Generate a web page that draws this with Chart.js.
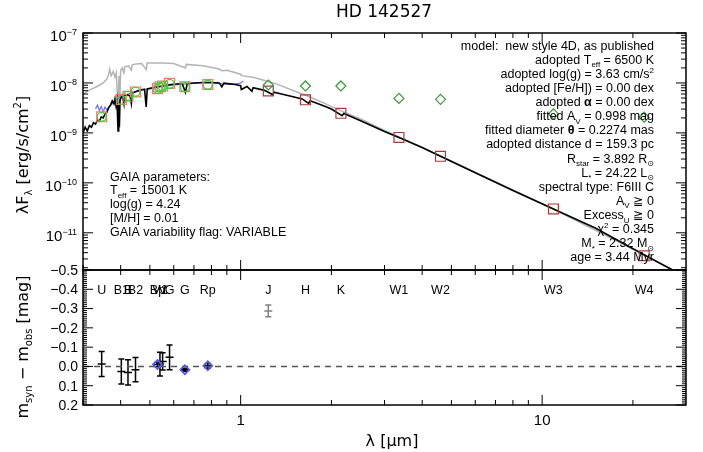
<!DOCTYPE html>
<html><head><meta charset="utf-8">
<script src="https://cdn.jsdelivr.net/npm/chart.js@4"></script>
<style>
html,body{margin:0;padding:0;background:#fff;}
#wrap{position:relative;width:703px;height:452px;overflow:hidden;}
canvas{position:absolute;left:0;top:0;}
</style></head><body>
<div id="wrap"><canvas id="c1" width="703" height="452"></canvas><canvas id="c2" width="703" height="452"></canvas></div>
<script>
// ================= DATA =================
// reddened model spectrum (black) [lambda um, lambda*F_lambda erg/s/cm2]
const specModelRed = [
 [0.300,1.0e-9],[0.305,1.3e-9],[0.310,1.1e-9],[0.315,1.4e-9],[0.320,1.3e-9],[0.325,1.6e-9],
 [0.330,1.5e-9],[0.335,1.8e-9],[0.340,1.7e-9],[0.345,2.1e-9],[0.350,2.0e-9],[0.355,2.4e-9],
 [0.360,2.6e-9],[0.365,3.2e-9],[0.370,3.6e-9],[0.375,4.4e-9],[0.380,3.8e-9],[0.383,4.8e-9],
 [0.386,3.5e-9],[0.389,4.6e-9],[0.392,1.1e-9],[0.394,4.0e-9],[0.396,1.3e-9],[0.398,4.5e-9],
 [0.402,5.2e-9],[0.405,5.5e-9],[0.410,3.8e-9],[0.412,5.6e-9],[0.420,5.8e-9],[0.430,5.5e-9],
 [0.434,3.9e-9],[0.437,6.2e-9],[0.445,6.6e-9],[0.455,6.9e-9],[0.470,7.3e-9],[0.480,7.5e-9],
 [0.486,3.3e-9],[0.490,7.6e-9],[0.510,8.0e-9],[0.530,8.4e-9],[0.550,8.7e-9],[0.580,9.2e-9],
 [0.600,9.4e-9],[0.640,9.7e-9],[0.656,6.5e-9],[0.665,9.8e-9],[0.700,1.0e-8],[0.750,1.02e-8],
 [0.800,1.02e-8],[0.850,1.0e-8],[0.866,8.3e-9],[0.880,9.9e-9],[0.920,9.6e-9],[0.960,9.3e-9],
 [1.000,8.8e-9],[1.005,7.4e-9],[1.050,8.5e-9],[1.090,6.8e-9],[1.100,8.0e-9],[1.200,7.1e-9],
 [1.280,5.8e-9],[1.290,6.5e-9],[1.400,5.8e-9],[1.600,4.8e-9],[1.680,3.9e-9],[1.700,4.4e-9],
 [1.900,3.4e-9],[2.000,3.0e-9],[2.170,2.2e-9],[2.200,2.45e-9],[2.500,1.75e-9],[3.000,1.07e-9],
 [3.350,8.1e-10],[4.000,5.1e-10],[4.600,3.4e-10],[6.000,1.6e-10],[8.000,7.0e-11],[10.90,3.0e-11],
 [15.00,1.25e-11],[22.00,3.5e-12],[30.00,1.3e-12]
];
// unreddened model spectrum (grey)
const specModelUnred = [
 [0.300,6.0e-9],[0.310,6.8e-9],[0.320,7.5e-9],[0.330,8.2e-9],[0.340,9.0e-9],[0.350,1.0e-8],
 [0.360,1.2e-8],[0.365,1.5e-8],[0.368,1.9e-8],[0.372,1.4e-8],[0.378,1.7e-8],[0.383,1.3e-8],
 [0.387,1.6e-8],[0.392,2.9e-9],[0.395,1.4e-8],[0.397,3.5e-9],[0.400,1.8e-8],[0.405,2.0e-8],
 [0.410,1.6e-8],[0.413,2.1e-8],[0.425,2.2e-8],[0.434,1.8e-8],[0.437,2.3e-8],[0.450,2.4e-8],
 [0.470,2.45e-8],[0.486,1.85e-8],[0.490,2.5e-8],[0.520,2.5e-8],[0.550,2.5e-8],[0.600,2.45e-8],
 [0.656,2.0e-8],[0.660,2.35e-8],[0.750,2.2e-8],[0.850,1.9e-8],[0.866,1.75e-8],[0.900,1.8e-8],
 [1.000,1.5e-8],[1.005,1.4e-8],[1.100,1.3e-8],[1.200,1.12e-8],[1.280,1.0e-8],[1.300,9.8e-9],
 [1.500,7.0e-9],[1.650,5.6e-9],[1.900,3.9e-9],[2.170,2.7e-9],[2.500,1.9e-9],[3.000,1.12e-9],
 [3.350,8.3e-10],[4.600,3.45e-10],[10.90,3.0e-11],[22.00,3.5e-12],[30.00,1.3e-12]
];
// Gaia XP spectrum (blue)
const specGaiaXP = [
 [0.330,3.0e-9],[0.335,3.6e-9],[0.340,2.8e-9],[0.345,3.4e-9],[0.350,2.6e-9],[0.355,3.3e-9],
 [0.360,2.9e-9],[0.370,3.5e-9],[0.380,4.2e-9],[0.390,4.8e-9],[0.400,5.3e-9],[0.420,5.9e-9],
 [0.440,6.4e-9],[0.460,7.0e-9],[0.480,7.3e-9],[0.500,7.6e-9],[0.550,8.5e-9],[0.600,9.1e-9],
 [0.650,9.5e-9],[0.700,9.8e-9],[0.750,1.0e-8],[0.800,1.0e-8],[0.850,9.7e-9],[0.900,9.5e-9],
 [0.950,9.5e-9],[1.000,9.9e-9],[1.020,1.1e-8]
];
// optical photometry
const optFilters   = ['U','B1','B','B2','Bp','V1','V','G','G','Rp'];
const optLambda    = [0.346,0.402,0.423,0.448,0.530,0.540,0.551,0.581,0.653,0.778];
const optObsFlux   = [2.1e-9,4.6e-9,5.5e-9,6.7e-9,7.6e-9,8.2e-9,8.6e-9,9.6e-9,8.3e-9,9.2e-9];
const optModelFlux = [2.1e-9,4.7e-9,5.4e-9,6.6e-9,7.7e-9,8.4e-9,8.7e-9,9.8e-9,8.4e-9,9.3e-9];
// infrared photometry
const irFilters   = ['J','H','K','W1','W2','W3','W4'];
const irLambda    = [1.235,1.64,2.15,3.35,4.6,10.9,21.8];
const irObsFlux   = [9.1e-9,8.7e-9,8.7e-9,4.9e-9,4.7e-9,2.4e-9,2.06e-9];
const irModelFlux = [6.9e-9,4.6e-9,2.47e-9,8.1e-10,3.4e-10,3.0e-11,3.47e-12];
// residuals m_syn - m_obs
const resGenLambda = [0.346,0.402,0.423,0.448,0.540,0.551,0.581];
const resGenVal    = [-0.013,0.026,0.031,0.017,-0.012,-0.026,-0.047];
const resGenErr    = [0.065,0.065,0.065,0.063,0.062,0.045,0.064];
const resGaiaLambda = [0.530,0.653,0.778];
const resGaiaVal    = [-0.010,0.017,-0.003];
const resGaiaErr    = [0.012,0.008,0.012];
const resJLambda = [1.235];
const resJVal    = [-0.288];
const resJErr    = [0.03];
// tick labels
const topTickExps = [-7,-8,-9,-10,-11];
const botTickVals = [-0.5,-0.4,-0.3,-0.2,-0.1,0.0,0.1,0.2];
const xTickVals = [1,10];
const filterLabels = ['U','B1','B','B2','Bp','V1','V','G','G','Rp','J','H','K','W1','W2','W3','W4'];
const filterLabelLambda = [0.346,0.402,0.423,0.448,0.530,0.540,0.551,0.581,0.653,0.778,1.235,1.64,2.15,3.35,4.6,10.9,21.8];

// ================= HELPERS =================
const FONT = '"Liberation Sans", "DejaVu Sans", "Noto Sans CJK JP", sans-serif';
const FONT2 = '"DejaVu Sans", "Liberation Sans", "Noto Sans CJK JP", sans-serif';
function drawRich(ctx, segs, x, y, align, size, font) {
  const items = segs.map(s => Array.isArray(s) ? {t:s[0], m:s[1]} : {t:s, m:''});
  let w = 0;
  const fontFor = m => (m==='b' ? 'bold ' : '') + ((m==='sub'||m==='sup') ? Math.round(size*0.62) : size) + 'px ' + font;
  items.forEach(it => { ctx.font = fontFor(it.m); it.w = ctx.measureText(it.t).width; w += it.w; });
  let cx = align === 'right' ? x - w : align === 'center' ? x - w/2 : x;
  ctx.textAlign = 'left'; ctx.textBaseline = 'alphabetic';
  items.forEach(it => {
    ctx.font = fontFor(it.m);
    const dy = it.m === 'sub' ? size*0.28 : it.m === 'sup' ? -size*0.42 : 0;
    ctx.fillText(it.t, cx, y + dy);
    cx += it.w;
  });
}
const pts = (arr) => arr.map(p => ({x:p[0], y:p[1]}));
const zip = (xs, ys) => xs.map((v,i) => ({x:v, y:ys[i]}));

function xTicks() {
  const t = [];
  for (let e = -1; e <= 1; e++) for (let k = 1; k <= 9; k++) {
    const v = k * Math.pow(10, e);
    if (v > 0.3 && v < 30) t.push({v, major: k === 1});
  }
  return t;
}
function drawXTicks(ctx, sx, yEdge, dir) {
  xTicks().forEach(t => {
    const px = sx.getPixelForValue(t.v);
    const L = t.major ? 10 : 5;
    ctx.beginPath(); ctx.moveTo(px, yEdge); ctx.lineTo(px, yEdge + dir*L); ctx.stroke();
  });
}

// ================= TOP CHART =================
const topPlugin = {
  id: 'topDeco',
  afterDatasetsDraw(chart) {
    const ctx = chart.ctx, a = chart.chartArea, sx = chart.scales.x, sy = chart.scales.y;
    ctx.save();
    ctx.strokeStyle = '#000'; ctx.fillStyle = '#000';
    ctx.lineWidth = 1.5;
    ctx.strokeRect(a.left, a.top, a.right - a.left, a.bottom - a.top);
    ctx.lineWidth = 1;
    drawXTicks(ctx, sx, a.top, 1);
    drawXTicks(ctx, sx, a.bottom, -1);
    for (let e = -12; e <= -7; e++) for (let k = 1; k <= 9; k++) {
      const v = k * Math.pow(10, e);
      if (v < sy.min || v > sy.max) continue;
      const py = sy.getPixelForValue(v);
      const L = k === 1 ? 10 : 5;
      ctx.beginPath(); ctx.moveTo(a.left, py); ctx.lineTo(a.left + L, py);
      ctx.moveTo(a.right, py); ctx.lineTo(a.right - L, py); ctx.stroke();
    }
    topTickExps.forEach(e => {
      const py = sy.getPixelForValue(Math.pow(10, e));
      drawRich(ctx, ['10', ['\u2212' + Math.abs(e), 'sup']], 77, py + 8, 'right', 15, FONT);
    });
    ctx.font = '17px ' + FONT2; ctx.textAlign = 'center'; ctx.textBaseline = 'middle';
    ctx.fillText('HD 142527', 384, 13);
    ctx.save(); ctx.translate(22, 155); ctx.rotate(-Math.PI/2);
    drawRich(ctx, ['\u03bbF', ['\u03bb','sub'], ' [erg/s/cm', ['2','sup'], ']'], 0, 6, 'center', 16, FONT2);
    ctx.restore();
    const lines = [
      ['model:  new style 4D, as published'],
      ['adopted T', ['eff','sub'], ' = 6500 K'],
      ['adopted log(g) = 3.63 cm/s', ['2','sup']],
      ['adopted [Fe/H]) = 0.00 dex'],
      ['adopted ', ['\u03b1','b'], ' = 0.00 dex'],
      ['fitted A', ['V','sub'], ' = 0.998 mag'],
      ['fitted diameter ', ['\u03b8','b'], ' = 0.2274 mas'],
      ['adopted distance d = 159.3 pc'],
      ['R', ['star','sub'], ' = 3.892 R', ['\u2299','sub']],
      ['L', ['*','sub'], ' = 24.22 L', ['\u2299','sub']],
      ['spectral type: F6III C'],
      ['A', ['V','sub'], ' \u2267 0'],
      ['Excess', ['U','sub'], ' \u2267 0'],
      ['\u03c7', ['2','sup'], ' = 0.345'],
      ['M', ['*','sub'], ' = 2.32 M', ['\u2299','sub']],
      ['age = 3.44 Myr']
    ];
    lines.forEach((ln, i) => drawRich(ctx, ln, 654, 45 + i*14.13 + 4.5, 'right', 12.5, FONT));
    const gaia = [
      ['GAIA parameters:'],
      ['T', ['eff','sub'], ' = 15001 K'],
      ['log(g) = 4.24'],
      ['[M/H] = 0.01'],
      ['GAIA variability flag: VARIABLE']
    ];
    gaia.forEach((ln, i) => drawRich(ctx, ln, 110, 176 + i*13.8 + 4.5, 'left', 12.5, FONT));
    ctx.restore();
  }
};

new Chart(document.getElementById('c1'), {
  type: 'scatter',
  data: { datasets: [
    { data: pts(specModelUnred), showLine: true, borderColor: '#b4b4b4', borderWidth: 1.5, pointRadius: 0, order: 10 },
    { data: pts(specGaiaXP), showLine: true, borderColor: '#7070ff', borderWidth: 1.2, pointRadius: 0, order: 9 },
    { data: pts(specModelRed), showLine: true, borderColor: '#000000', borderWidth: 1.6, pointRadius: 0, order: 8 },
    { data: zip(optLambda, optModelFlux), pointStyle: 'rect', pointRadius: 7, borderColor: '#f07878', backgroundColor: 'rgba(0,0,0,0)', borderWidth: 1.2, order: 6 },
    { data: zip(optLambda, optObsFlux), pointStyle: 'circle', pointRadius: 4.5, borderColor: '#33d633', backgroundColor: 'rgba(0,0,0,0)', borderWidth: 1.3, order: 5 },
    { data: zip(irLambda, irModelFlux), pointStyle: 'rect', pointRadius: 7, borderColor: '#a83838', backgroundColor: 'rgba(0,0,0,0)', borderWidth: 1.2, order: 4 },
    { data: zip(irLambda, irObsFlux), pointStyle: 'rectRot', pointRadius: 5, borderColor: '#3a9a3a', backgroundColor: 'rgba(0,0,0,0)', borderWidth: 1.2, order: 3 }
  ]},
  options: {
    responsive: false, animation: false, events: [],
    layout: { padding: { left: 83, right: 17, top: 33, bottom: 182 } },
    plugins: { legend: { display: false }, tooltip: { enabled: false } },
    scales: {
      x: { type: 'logarithmic', min: 0.3, max: 30, display: false },
      y: { type: 'logarithmic', min: 1.8e-12, max: 1e-7, display: false }
    }
  },
  plugins: [topPlugin]
});

// ================= BOTTOM CHART =================
const botPlugin = {
  id: 'botDeco',
  beforeDatasetsDraw(chart) {
    const ctx = chart.ctx, sx = chart.scales.x, sy = chart.scales.y;
    ctx.save();
    const bars = (lams, vals, errs, color) => {
      ctx.strokeStyle = color; ctx.lineWidth = 1.5;
      lams.forEach((l, i) => {
        const px = sx.getPixelForValue(l);
        const y1 = sy.getPixelForValue(vals[i] - errs[i]);
        const y2 = sy.getPixelForValue(vals[i] + errs[i]);
        const yc = sy.getPixelForValue(vals[i]);
        ctx.beginPath();
        ctx.moveTo(px, y1); ctx.lineTo(px, y2);
        ctx.moveTo(px - 3, y1); ctx.lineTo(px + 3, y1);
        ctx.moveTo(px - 3, y2); ctx.lineTo(px + 3, y2);
        ctx.moveTo(px - 4, yc); ctx.lineTo(px + 4, yc);
        ctx.stroke();
      });
    };
    bars(resGenLambda, resGenVal, resGenErr, '#000');
    bars(resGaiaLambda, resGaiaVal, resGaiaErr, '#000');
    bars(resJLambda, resJVal, resJErr, '#808080');
    ctx.restore();
  },
  afterDatasetsDraw(chart) {
    const ctx = chart.ctx, a = chart.chartArea, sx = chart.scales.x, sy = chart.scales.y;
    ctx.save();
    ctx.strokeStyle = '#000'; ctx.fillStyle = '#000';
    ctx.lineWidth = 1.5;
    ctx.strokeRect(a.left, a.top, a.right - a.left, a.bottom - a.top);
    ctx.lineWidth = 1;
    drawXTicks(ctx, sx, a.top, 1);
    drawXTicks(ctx, sx, a.bottom, -1);
    for (let i = -50; i <= 20; i++) {
      const v = i / 100;
      const py = sy.getPixelForValue(v);
      const L = (i % 10 === 0) ? 10 : 4;
      ctx.beginPath(); ctx.moveTo(a.left, py); ctx.lineTo(a.left + L, py);
      ctx.moveTo(a.right, py); ctx.lineTo(a.right - L, py); ctx.stroke();
    }
    ctx.font = '14px ' + FONT; ctx.textAlign = 'right'; ctx.textBaseline = 'middle';
    botTickVals.forEach(v => {
      const txt = (v < 0 ? '\u2212' : '') + Math.abs(v).toFixed(1);
      ctx.fillText(txt, 78, sy.getPixelForValue(v) + 1);
    });
    ctx.font = '15px ' + FONT; ctx.textAlign = 'center';
    xTickVals.forEach(v => ctx.fillText(String(v), sx.getPixelForValue(v), 421));
    ctx.font = '12.5px ' + FONT; ctx.textAlign = 'center';
    filterLabels.forEach((f, i) => ctx.fillText(f, sx.getPixelForValue(filterLabelLambda[i]), 291));
    drawRich(ctx, ['\u03bb [\u03bcm]'], 392, 446, 'center', 16, FONT2);
    ctx.save(); ctx.translate(22, 347); ctx.rotate(-Math.PI/2);
    drawRich(ctx, ['m', ['syn','sub'], ' \u2212 m', ['obs','sub'], ' [mag]'], 0, 6, 'center', 16, FONT2);
    ctx.restore();
    ctx.restore();
  }
};

new Chart(document.getElementById('c2'), {
  type: 'scatter',
  data: { datasets: [
    { data: [{x:0.3,y:0},{x:30,y:0}], showLine: true, borderColor: '#555555', borderWidth: 1.5, borderDash: [6,5], pointRadius: 0, order: 5 },
    { data: zip(resGaiaLambda, resGaiaVal), pointStyle: 'rectRot', pointRadius: 4.5, borderColor: '#5a5af0', backgroundColor: 'rgba(0,0,0,0)', borderWidth: 1.8, order: 2 }
  ]},
  options: {
    responsive: false, animation: false, events: [],
    layout: { padding: { left: 83, right: 17, top: 270, bottom: 47 } },
    plugins: { legend: { display: false }, tooltip: { enabled: false } },
    scales: {
      x: { type: 'logarithmic', min: 0.3, max: 30, display: false },
      y: { type: 'linear', min: -0.5, max: 0.2, reverse: true, display: false }
    }
  },
  plugins: [botPlugin]
});
</script>
</body></html>
